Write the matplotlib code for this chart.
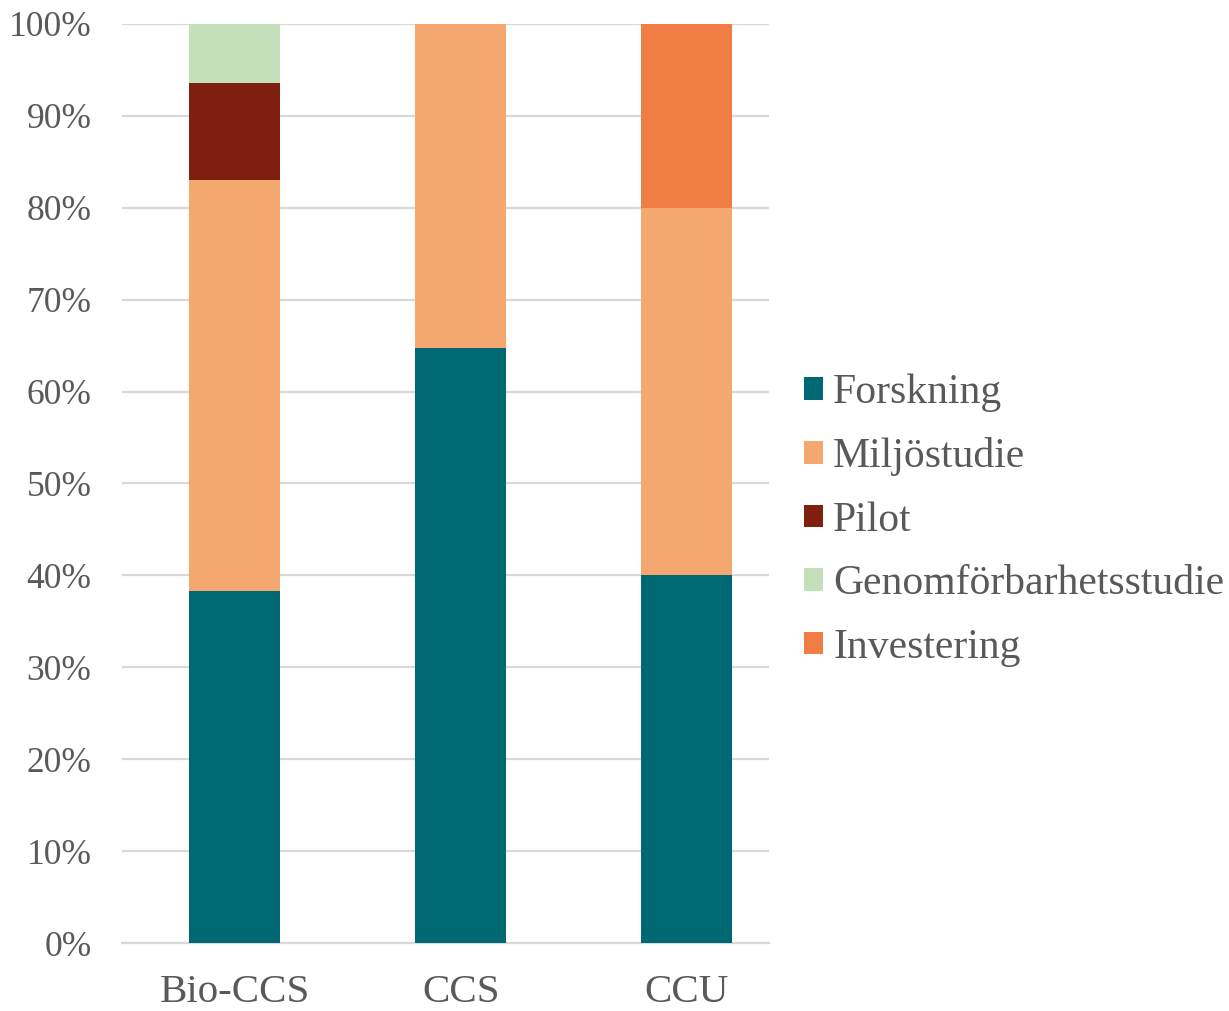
import matplotlib.pyplot as plt
import numpy as np
from matplotlib.ticker import PercentFormatter

plt.rcParams['font.family'] = ['Liberation Serif', 'DejaVu Serif']

categories = ['Bio-CCS', 'CCS', 'CCU']
series = ['Forskning', 'Miljöstudie', 'Pilot', 'Genomförbarhetsstudie', 'Investering']
forskning = [38.3, 64.7, 40.0]
miljostudie = [44.7, 35.3, 40.0]
pilot = [10.6, 0.0, 0.0]
genomforbarhet = [6.4, 0.0, 0.0]
investering = [0.0, 0.0, 20.0]
colors = ['#006872', '#F4A870', '#7F1F10', '#C3E0BB', '#EF7D44']

values = [forskning, miljostudie, pilot, genomforbarhet, investering]
text_color = '#595959'
grid_color = '#D9D9D9'

fig = plt.figure(figsize=(12.29, 10.11), dpi=100)
ax = fig.add_axes([122 / 1229, 1 - 943 / 1011, (769 - 122) / 1229, (943 - 24) / 1011])

x = np.arange(len(categories))
bottom = np.zeros(len(categories))
for name, vals, col in zip(series, values, colors):
    ax.bar(x, vals, 0.403, bottom=bottom, color=col, label=name, zorder=3)
    bottom += np.array(vals)

ax.set_xlim(-0.5, 2.365)
ax.set_ylim(0, 100)
ax.set_yticks(np.arange(0, 101, 10))
ax.yaxis.set_major_formatter(PercentFormatter(decimals=0))
ax.set_xticks(x)
ax.set_xticklabels(categories)
ax.grid(axis='y', color=grid_color, linewidth=1.6, zorder=0)
for side in ['top', 'right', 'left']:
    ax.spines[side].set_visible(False)
ax.spines['bottom'].set_color(grid_color)
ax.spines['bottom'].set_linewidth(1.6)
ax.tick_params(axis='both', length=0, colors=text_color)
ax.tick_params(axis='y', labelsize=25.5, pad=22)
ax.tick_params(axis='x', labelsize=29.5, pad=22)

leg = ax.legend(loc='center left', bbox_to_anchor=(1.054, 0.46), frameon=False,
                fontsize=30, handlelength=0.46, handleheight=0.46,
                handletextpad=0.24, labelspacing=0.6, borderaxespad=0,
                borderpad=0)
for t in leg.get_texts():
    t.set_color(text_color)

fig.savefig('out.png', dpi=100)
